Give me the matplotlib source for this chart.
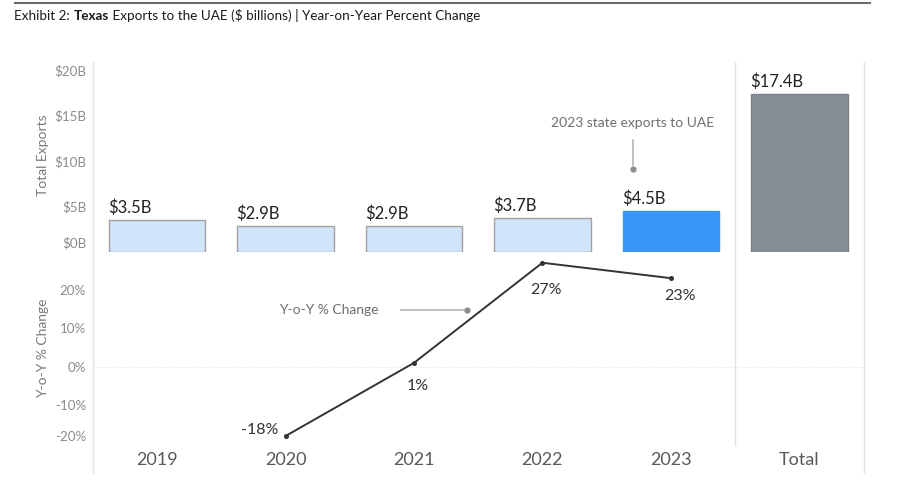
import matplotlib
matplotlib.use("Agg")
import matplotlib.pyplot as plt
from matplotlib.lines import Line2D
from matplotlib.transforms import ScaledTranslation

plt.rcParams['font.family'] = ['Lato', 'DejaVu Sans']

# ---------------- data ----------------
years = ["2019", "2020", "2021", "2022", "2023"]
exports = [3.5, 2.9, 2.9, 3.7, 4.5]
export_labels = ["$3.5B", "$2.9B", "$2.9B", "$3.7B", "$4.5B"]
total_label = "Total"
total_value = 17.4
total_text = "$17.4B"
yoy_years = ["2020", "2021", "2022", "2023"]
yoy_values = [-18, 1, 27, 23]
yoy_labels = ["-18%", "1%", "27%", "23%"]
top_ticks = [0, 5, 10, 15, 20]
top_ticklabels = ["$0B", "$5B", "$10B", "$15B", "$20B"]
bot_ticks = [-20, -10, 0, 10, 20]
bot_ticklabels = ["-20%", "-10%", "0%", "10%", "20%"]

# ---------------- styles ----------------
W, H = 907, 501
DPI = 100
fig = plt.figure(figsize=(W / DPI, H / DPI), dpi=DPI)

def rect(l, t, r, b):
    return [l / W, 1 - b / H, (r - l) / W, (b - t) / H]

LIGHT = "#d0e4fa"
HILITE = "#3795f6"
GREY_BAR = "#878e96"
EDGE = "#a0a0a0"
AXC = "#e3e3e3"
TICKC = "#8c8c8c"

PX_PER_B = 9.1
PX_PER_PCT = 3.85
top_t, top_b = 60, 252
bot_t, bot_b = 253, 446
zero_px = 366.7

ax_top = fig.add_axes(rect(93, top_t, 735, top_b))
ax_bot = fig.add_axes(rect(93, bot_t, 735, bot_b))
ax_tt = fig.add_axes(rect(735, top_t, 864, top_b))
ax_tb = fig.add_axes(rect(735, bot_t, 864, bot_b))

for ax in (ax_top, ax_bot, ax_tt, ax_tb):
    for s in ax.spines.values():
        s.set_visible(False)
    ax.set_facecolor("none")
    ax.tick_params(length=0)

top_lim = (0, (top_b - top_t) / PX_PER_B)
bot_lim = (-(bot_b - zero_px) / PX_PER_PCT, (zero_px - bot_t) / PX_PER_PCT)

xpos = list(range(len(years)))
for ax in (ax_top, ax_bot):
    ax.set_xlim(-0.5, len(years) - 0.5)
for ax in (ax_tt, ax_tb):
    ax.set_xlim(-0.5, 0.5)
ax_top.set_ylim(*top_lim)
ax_tt.set_ylim(*top_lim)
ax_bot.set_ylim(*bot_lim)
ax_tb.set_ylim(*bot_lim)

# ---------------- bars ----------------
bw = 0.75
colors = [LIGHT] * (len(years) - 1) + [HILITE]
edges = [EDGE] * (len(years) - 1) + [HILITE]
ax_top.bar(xpos, exports, width=bw, color=colors, edgecolor=edges, linewidth=1.0)
for x, v, lab in zip(xpos, exports, export_labels):
    ax_top.annotate(lab, (x - bw / 2, v), xytext=(-1, 7), textcoords="offset pixels",
                    ha="left", va="baseline", fontsize=12, color="#222222")

ax_tt.bar([0], [total_value], width=bw, color=GREY_BAR, edgecolor="#7a8088", linewidth=1.0)
ax_tt.annotate(total_text, (-bw / 2, total_value), xytext=(-1, 7), textcoords="offset pixels",
               ha="left", va="baseline", fontsize=12, color="#222222")

# ---------------- ticks ----------------
ax_top.set_yticks(top_ticks)
ax_top.set_yticklabels(top_ticklabels, fontsize=9.6, color=TICKC)
ax_bot.set_yticks(bot_ticks)
ax_bot.set_yticklabels(bot_ticklabels, fontsize=9.6, color=TICKC)
for ax in (ax_top, ax_bot):
    ax.tick_params(axis="y", pad=5)
    ax.set_xticks([])
ax_tt.set_xticks([]); ax_tt.set_yticks([])
ax_tb.set_xticks([]); ax_tb.set_yticks([])

# shift edge labels upward like the reference
lab0 = ax_top.get_yticklabels()[0]
lab0.set_transform(lab0.get_transform() + ScaledTranslation(0, 10 / DPI, fig.dpi_scale_trans))
labm = ax_bot.get_yticklabels()[0]
labm.set_transform(labm.get_transform() + ScaledTranslation(0, 8 / DPI, fig.dpi_scale_trans))

# x category labels
for x, y in zip(xpos, years):
    ax_bot.annotate(y, (x, bot_lim[0]), xytext=(0, -14), textcoords="offset pixels",
                    ha="center", va="center", fontsize=13, color="#595959",
                    annotation_clip=False)
ax_tb.annotate(total_label, (0, bot_lim[0]), xytext=(0, -14), textcoords="offset pixels",
               ha="center", va="center", fontsize=13, color="#595959", annotation_clip=False)

# axis titles
fig.text(43 / W, 1 - 155 / H, "Total Exports", rotation=90, ha="center", va="center",
         fontsize=10, color="#7a7a7a")
fig.text(43 / W, 1 - 348 / H, "Y-o-Y % Change", rotation=90, ha="center", va="center",
         fontsize=10, color="#7a7a7a")

# zero line
for ax in (ax_bot, ax_tb):
    ax.axhline(0, color="#e8e8e8", lw=0.8, ls=(0, (1, 1)))

# ---------------- line ----------------
yx = [years.index(y) for y in yoy_years]
ax_bot.plot(yx, yoy_values, color="#333333", lw=1.4, marker="o", ms=2.6, zorder=3)
offs = [(-7, 6, "right"), (4, -23, "center"), (4, -27, "center"), (9, -18, "center")]
for x, v, lab, (dx, dy, ha) in zip(yx, yoy_values, yoy_labels, offs):
    ax_bot.annotate(lab, (x, v), xytext=(dx, dy), textcoords="offset pixels",
                    ha=ha, va="center", fontsize=11.5, color="#333333")

# ---------------- annotations ----------------
ANN = "#6e6e6e"
ax_top.text(3.706, 14.2, "2023 state exports to UAE", ha="center", va="center",
            fontsize=10, color=ANN)
ax_top.plot([3.706, 3.706], [12.3, 9.6], color="#b5b5b5", lw=1.2)
ax_top.plot([3.706], [9.15], marker="o", ms=3.5, color="#8c8c8c")

ax_bot.text(1.727, 14.7, "Y-o-Y % Change", ha="right", va="center", fontsize=10, color=ANN)
ax_bot.plot([1.899, 2.413], [14.7, 14.7], color="#b5b5b5", lw=1.2)
ax_bot.plot([2.413], [14.7], marker="o", ms=3.5, color="#8c8c8c")

# ---------------- frame lines ----------------
def fline(x0, y0, x1, y1, **kw):
    fig.add_artist(Line2D([x0 / W, x1 / W], [1 - y0 / H, 1 - y1 / H],
                          transform=fig.transFigure, **kw))

fline(93, 62, 93, 473, color=AXC, lw=1.0)
fline(735, 62, 735, 445, color=AXC, lw=1.0)
fline(864, 62, 864, 473, color=AXC, lw=1.0)
fline(15, 2.5, 870, 2.5, color="#6b6b6b", lw=1.5)

# ---------------- title ----------------
parts = [("Exhibit 2: ", "normal"), ("Texas", "bold"),
         (" Exports to the UAE ($ billions) | Year-on-Year Percent Change", "normal")]
renderer = fig.canvas.get_renderer()
x = 14 / W
for txt, wt in parts:
    t = fig.text(x, 1 - 16 / H, txt, ha="left", va="center", fontsize=9.7,
                 fontweight=wt, color="#1a1a1a")
    bb = t.get_window_extent(renderer=renderer)
    x += bb.width / W

fig.savefig("out.png", dpi=DPI)
